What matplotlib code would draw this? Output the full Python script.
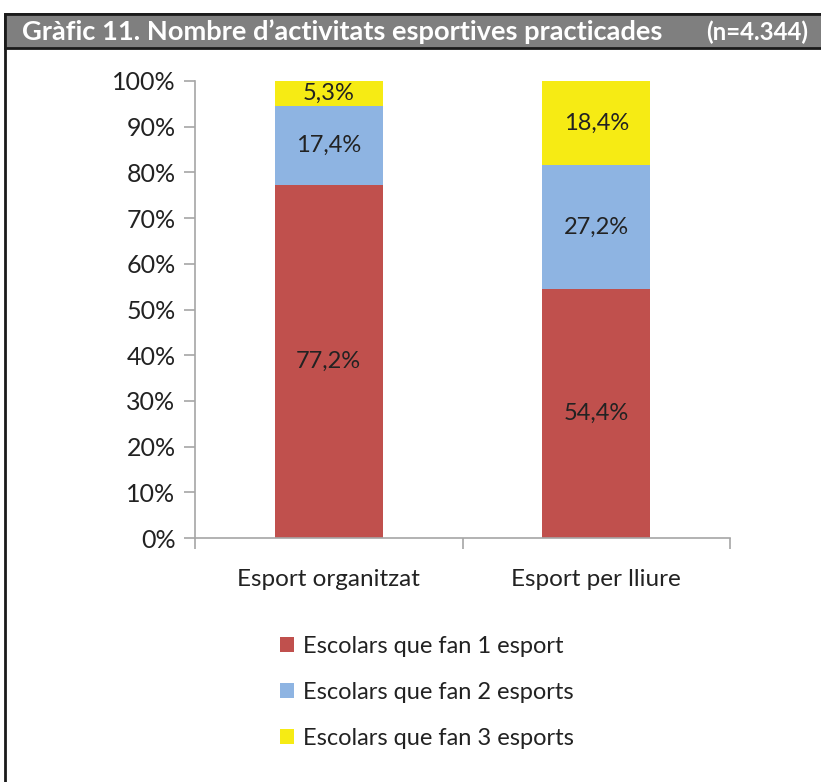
import numpy as np
import matplotlib.pyplot as plt
from matplotlib.patches import Rectangle

plt.rcParams['font.family'] = ['Lato', 'DejaVu Sans']

categories = ['Esport organitzat', 'Esport per lliure']
series = ['Escolars que fan 1 esport', 'Escolars que fan 2 esports', 'Escolars que fan 3 esports']
values = [
    [77.2, 54.4],
    [17.4, 27.2],
    [5.3, 18.4],
]
colors = ['#C0504D', '#8EB4E2', '#F6EB14']
title = 'Gràfic 11. Nombre d\u2019activitats esportives practicades'
n_label = '(n=4.344)'

fig = plt.figure(figsize=(8.21, 7.82), dpi=100)
W, H = 821, 782

# frame and title bar (behind the axes)
fig.patches.append(Rectangle((5 / W, -0.01), 1.0, (H - 14) / H + 0.01, transform=fig.transFigure,
                             facecolor='white', edgecolor='#1a1a1a', lw=2.0, zorder=-2))
fig.patches.append(Rectangle((5 / W, (H - 48) / H), 1.0, 34 / H, transform=fig.transFigure,
                             facecolor='#7F7F7F', edgecolor='#1a1a1a', lw=2.0, zorder=-1))
fig.text(22 / W, (H - 32) / H, title, color='white', fontsize=19.6, fontweight='bold',
         va='center', ha='left')
fig.text(808 / W, (H - 32) / H, n_label, color='white', fontsize=17.3, fontweight='bold',
         va='center', ha='right')

ax = fig.add_axes([195 / W, 1 - 538 / H, (730 - 195) / W, (538 - 81) / H])
ax.patch.set_alpha(0)
x = np.arange(len(categories))
bottom = np.zeros(len(categories))
handles = []
for vals, col, name in zip(values, colors, series):
    vals = np.array(vals)
    b = ax.bar(x, vals, 0.405, bottom=bottom, color=col, label=name, zorder=2)
    handles.append(b)
    for xi, v, b0 in zip(x, vals, bottom):
        ax.text(xi, b0 + v / 2, f'{v:.1f}%'.replace('.', ','), ha='center', va='center',
                fontsize=17, color='#222222', zorder=3)
    bottom += vals

ax.set_xlim(-0.5, 1.5)
ax.set_ylim(0, 100)
ax.set_yticks(np.arange(0, 101, 10))
ax.set_yticklabels([f'{t}%' for t in range(0, 101, 10)])
ax.set_xticks(x)
ax.set_xticklabels(categories)
ax.set_xticks([-0.5, 0.5, 1.5], minor=True)
ax.tick_params(axis='x', which='major', length=0, pad=22, labelsize=17.5, labelcolor='#222222')
ax.tick_params(axis='x', which='minor', length=8, color='#A6A6A6', width=1.2)
ax.tick_params(axis='y', length=8, color='#A6A6A6', width=1.2, pad=6, labelsize=18,
               labelcolor='#222222')
for s in ['top', 'right']:
    ax.spines[s].set_visible(False)
for s in ['left', 'bottom']:
    ax.spines[s].set_color('#A6A6A6')
    ax.spines[s].set_linewidth(1.2)

fig.legend(handles=handles, labels=series, loc='upper left',
           bbox_to_anchor=(259 / W, 1 - 615 / H), frameon=False, fontsize=17,
           handlelength=0.6, handleheight=0.6, handletextpad=0.35, labelspacing=1.05,
           labelcolor='#222222')

fig.savefig('out.png', dpi=100)
